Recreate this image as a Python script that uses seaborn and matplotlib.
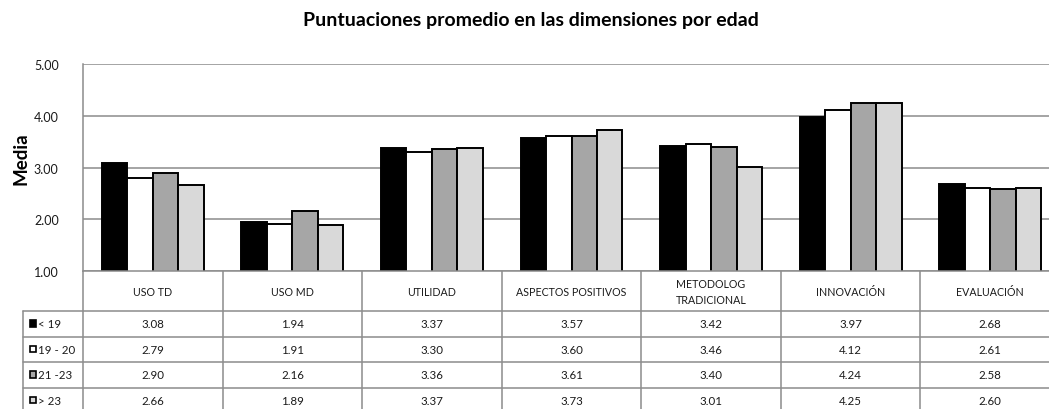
import matplotlib
matplotlib.use("Agg")
import matplotlib.pyplot as plt
from matplotlib.patches import Rectangle
import pandas as pd
import seaborn as sns

# Dimensions evaluated and age groups
categorias = ["USO TD", "USO MD", "UTILIDAD", "ASPECTOS POSITIVOS",
              "METODOLOG\nTRADICIONAL", "INNOVACIÓN", "EVALUACIÓN"]
grupos = ["< 19", "19 - 20", "21 -23", "> 23"]

# Mean scores per age group
menor_19 = [3.08, 1.94, 3.37, 3.57, 3.42, 3.97, 2.68]
de_19_20 = [2.79, 1.91, 3.30, 3.60, 3.46, 4.12, 2.61]
de_21_23 = [2.90, 2.16, 3.36, 3.61, 3.40, 4.24, 2.58]
mayor_23 = [2.66, 1.89, 3.37, 3.73, 3.01, 4.25, 2.60]
series = [menor_19, de_19_20, de_21_23, mayor_23]

colores = ["#000000", "#ffffff", "#a6a6a6", "#d9d9d9"]

df = pd.DataFrame(
    [(c, g, v) for g, vals in zip(grupos, series) for c, v in zip(categorias, vals)],
    columns=["categoria", "grupo", "media"],
)

sns.set_style("white")
plt.rcParams["font.family"] = ["Lato", "DejaVu Sans"]

W, H = 1049, 410
fig = plt.figure(figsize=(W / 100, H / 100), dpi=100)

# plot area in pixel units (the last column runs past the right edge)
x0, x1, ytop, ybot = 83, 1060, 65, 272
ax = fig.add_axes([x0 / W, 1 - ybot / H, (x1 - x0) / W, (ybot - ytop) / H])

sns.barplot(data=df, x="categoria", y="media", hue="grupo", order=categorias,
            hue_order=grupos, palette=colores, saturation=1, width=0.73,
            edgecolor="black", linewidth=1.4, legend=False, ax=ax)

grid_c = "#8c8c8c"
txt_c = "#1a1a1a"
ax.set_ylim(1, 5)
ax.set_xlim(-0.5, len(categorias) - 0.5)
ax.set_yticks([1, 2, 3, 4, 5])
ax.set_yticklabels([f"{v:.2f}" for v in [1, 2, 3, 4, 5]], fontsize=9, color=txt_c)
ax.tick_params(axis="y", length=0, pad=17.5)
ax.tick_params(axis="x", length=0, labelbottom=False)
ax.set_xlabel("")
ax.set_ylabel("")
ax.yaxis.grid(True, color=grid_c, linewidth=1.1)
ax.set_axisbelow(True)
for s in ["top", "right"]:
    ax.spines[s].set_visible(False)
for s in ["left", "bottom"]:
    ax.spines[s].set_color(grid_c)
    ax.spines[s].set_linewidth(1.1)

fig.text(21 / W, 1 - 159 / H, "Media", rotation=90, ha="center", va="center",
         fontsize=13.5, fontweight="bold", color="#000000")
fig.text(531 / W, 1 - 25.7 / H, "Puntuaciones promedio en las dimensiones por edad",
         ha="center", va="baseline", fontsize=14, fontweight="bold", color="#000000")

# data table beneath the plot, drawn in pixel coordinates
tab = fig.add_axes([0, 0, 1, 1], zorder=-1)
tab.set_xlim(0, W)
tab.set_ylim(H, 0)
tab.axis("off")

ncol = len(categorias)
colw = (x1 - x0) / ncol
row_top = 312
row_h = 25.5
nrow = len(grupos)
bottom = row_top + row_h * nrow
left_col = 23

lw = 1.1
for k in range(ncol + 1):
    xk = x0 + k * colw
    tab.plot([xk, xk], [ybot, bottom], color=grid_c, lw=lw, solid_capstyle="butt")
tab.plot([left_col, left_col], [row_top, bottom], color=grid_c, lw=lw)
for r in range(nrow + 1):
    yr = row_top + r * row_h
    tab.plot([left_col, x1], [yr, yr], color=grid_c, lw=lw)

for k, cat in enumerate(categorias):
    cx = x0 + (k + 0.5) * colw
    tab.text(cx, (ybot + row_top) / 2 + 0.5, cat, ha="center", va="center",
             fontsize=7.7, color=txt_c, linespacing=1.45)
    for r, vals in enumerate(series):
        cy = row_top + (r + 0.5) * row_h
        tab.text(cx, cy, f"{vals[k]:.2f}", ha="center", va="center",
                 fontsize=8.3, color=txt_c)

for r, (g, col) in enumerate(zip(grupos, colores)):
    cy = row_top + (r + 0.5) * row_h
    tab.add_patch(Rectangle((29.5, cy - 3.3), 6.5, 6.5, facecolor=col,
                            edgecolor="black", lw=1.2))
    tab.text(38.5, cy, g, ha="left", va="center", fontsize=8.3, color=txt_c)

fig.savefig("out.png", dpi=100)
